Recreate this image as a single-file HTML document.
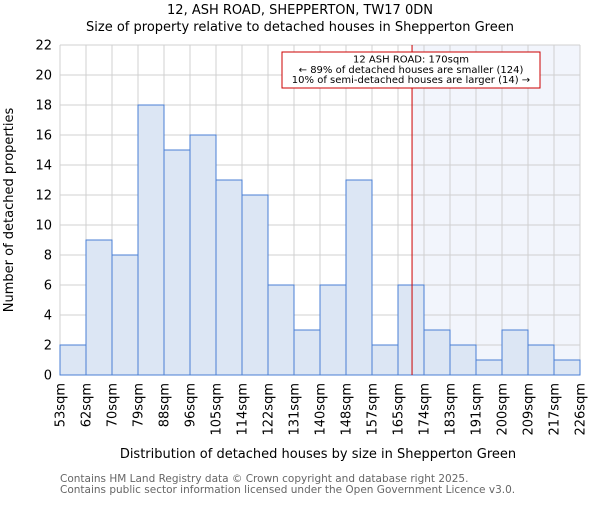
<!DOCTYPE html>
<html><head><meta charset="utf-8"><style>
body{margin:0;background:#fff}
svg{font-family:"DejaVu Sans","Liberation Sans",sans-serif}
</style></head><body>
<svg id="c" width="600" height="500">
<text x="300" y="14" text-anchor="middle" font-size="13">12, ASH ROAD, SHEPPERTON, TW17 0DN</text>
<text x="300" y="31" text-anchor="middle" font-size="13">Size of property relative to detached houses in Shepperton Green</text>
<g id="grid"></g><g id="bars"></g><g id="axes"></g>
<text x="318" y="458" text-anchor="middle" font-size="13">Distribution of detached houses by size in Shepperton Green</text>
<text transform="translate(13,210) rotate(-90)" text-anchor="middle" font-size="13">Number of detached properties</text>
<text x="60" y="482" font-size="10.5" fill="#666">Contains HM Land Registry data © Crown copyright and database right 2025.</text>
<text x="60" y="493" font-size="10.5" fill="#666">Contains public sector information licensed under the Open Government Licence v3.0.</text>
</svg>
<script>
const binLabels=["53sqm","62sqm","70sqm","79sqm","88sqm","96sqm","105sqm","114sqm","122sqm","131sqm","140sqm","148sqm","157sqm","165sqm","174sqm","183sqm","191sqm","200sqm","209sqm","217sqm","226sqm"];
const counts=[2,9,8,18,15,16,13,12,6,3,6,13,2,6,3,2,1,3,2,1];
const yTicks=[0,2,4,6,8,10,12,14,16,18,20,22];
const markerBin=13.54;
const NS="http://www.w3.org/2000/svg";
const L=60,R=580,T=45,B=375,yMax=22;
const bw=(R-L)/counts.length;
const xs=i=>L+i*bw, ys=v=>B-(B-T)*v/yMax;
function mk(tag,a,p){const e=document.createElementNS(NS,tag);for(const k in a)e.setAttribute(k,a[k]);p.appendChild(e);return e;}
const g=document.getElementById('grid'),b=document.getElementById('bars'),ax=document.getElementById('axes');
const mx=xs(markerBin);
const shade=mk('rect',{x:mx,y:T,width:R-mx,height:B-T,fill:'#f2f5fc'},g);


yTicks.forEach(v=>{const l=mk('line',{x1:L,x2:R,y1:ys(v),y2:ys(v),stroke:'#d0d0d0'},g);


const t=mk('text',{x:L-8,y:ys(v)+4.5,'text-anchor':'end','font-size':'13'},ax);t.textContent=v;

});
binLabels.forEach((s,i)=>{const l=mk('line',{x1:xs(i),x2:xs(i),y1:T,y2:B,stroke:'#d0d0d0'},g);


const t=mk('text',{transform:`translate(${xs(i)+4.5},${B+8}) rotate(-90)`,'text-anchor':'end','font-size':'13'},ax);t.textContent=s;

});
counts.forEach((v,i)=>{const r=mk('rect',{x:xs(i),y:ys(v),width:bw,height:B-ys(v),fill:'#dce6f4',stroke:'#4a7fd4','stroke-width':1},b);

});
const ml=mk('line',{x1:mx,x2:mx,y1:T,y2:B,stroke:'#cc0000','stroke-width':1},ax);


const box=mk('rect',{x:282,y:52,width:258,height:36,fill:'#fff',stroke:'#cc0000'},ax);


["12 ASH ROAD: 170sqm","← 89% of detached houses are smaller (124)","10% of semi-detached houses are larger (14) →"].forEach((s,i)=>{
const t=mk('text',{x:411,y:62.5+i*10.3,'text-anchor':'middle','font-size':'10'},ax);t.textContent=s;

});
</script>
</body></html>
